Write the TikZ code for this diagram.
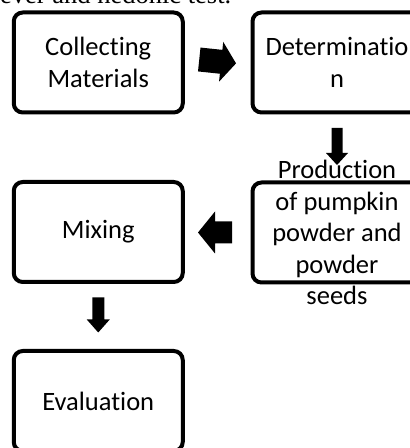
\documentclass[tikz,border=0pt]{standalone}
\usepackage{fontspec}
\setmainfont{Carlito}[Ligatures=NoCommon]
\newfontfamily\capfont{Liberation Serif}
\tikzset{
	box/.style={draw, line width=4pt, rounded corners=9pt, minimum width=169pt, minimum height=100pt, align=center, inner sep=0pt},
}
% block arrow: tail, angle, length, shaft, head width, head length
\newcommand\blkarrow[6]{\fill[shift={(#1)}, rotate=#2] (0,-#4/2) -- (#3-#6,-#4/2) -- (#3-#6,-#5/2) -- (#3,0) -- (#3-#6,#5/2) -- (#3-#6,#4/2) -- (0,#4/2) -- cycle;}
\begin{document}
\begin{tikzpicture}[x=1pt, y=1pt, font=\fontsize{26.5}{31.5}\selectfont, line join=round]
		\useasboundingbox (0,0) rectangle (410,448);
		\clip (0,0) rectangle (410,448);
		\node[anchor=base west, inner sep=0pt, font=\capfont\fontsize{26.5}{30}\selectfont] (cap) at (0,444) {ever and hedonic test.};
		\node[box] (collect) at (98.25,385.5) {Collecting\\Materials};
		\node[box] (det) at (337,385.5) {Determinatio\\n};
		\node[box] (prod) at (337,215.5) {};
		\node[align=center, inner sep=0pt] (prodtxt) at (prod.center) {Production\\of pumpkin\\powder and\\powder\\seeds};
		\node[box] (mix) at (98.25,216) {Mixing};
		\node[box] (eval) at (98.25,47) {Evaluation};
		\coordinate (a1) at ([shift={(14.5,3)}]collect.east);
		\coordinate (a2) at ([yshift=-13.5]det.south);
		\coordinate (a3) at ([xshift=-18.5]prod.west);
		\coordinate (a4) at ([yshift=-13.5]mix.south);
		\blkarrow{a1}{-6}{37}{24}{40}{15}
		\blkarrow{a2}{-90}{37}{11}{22}{12}
		\blkarrow{a3}{180}{34}{22}{42}{17}
		\blkarrow{a4}{-90}{35}{12}{23}{13}
\end{tikzpicture}
\end{document}
